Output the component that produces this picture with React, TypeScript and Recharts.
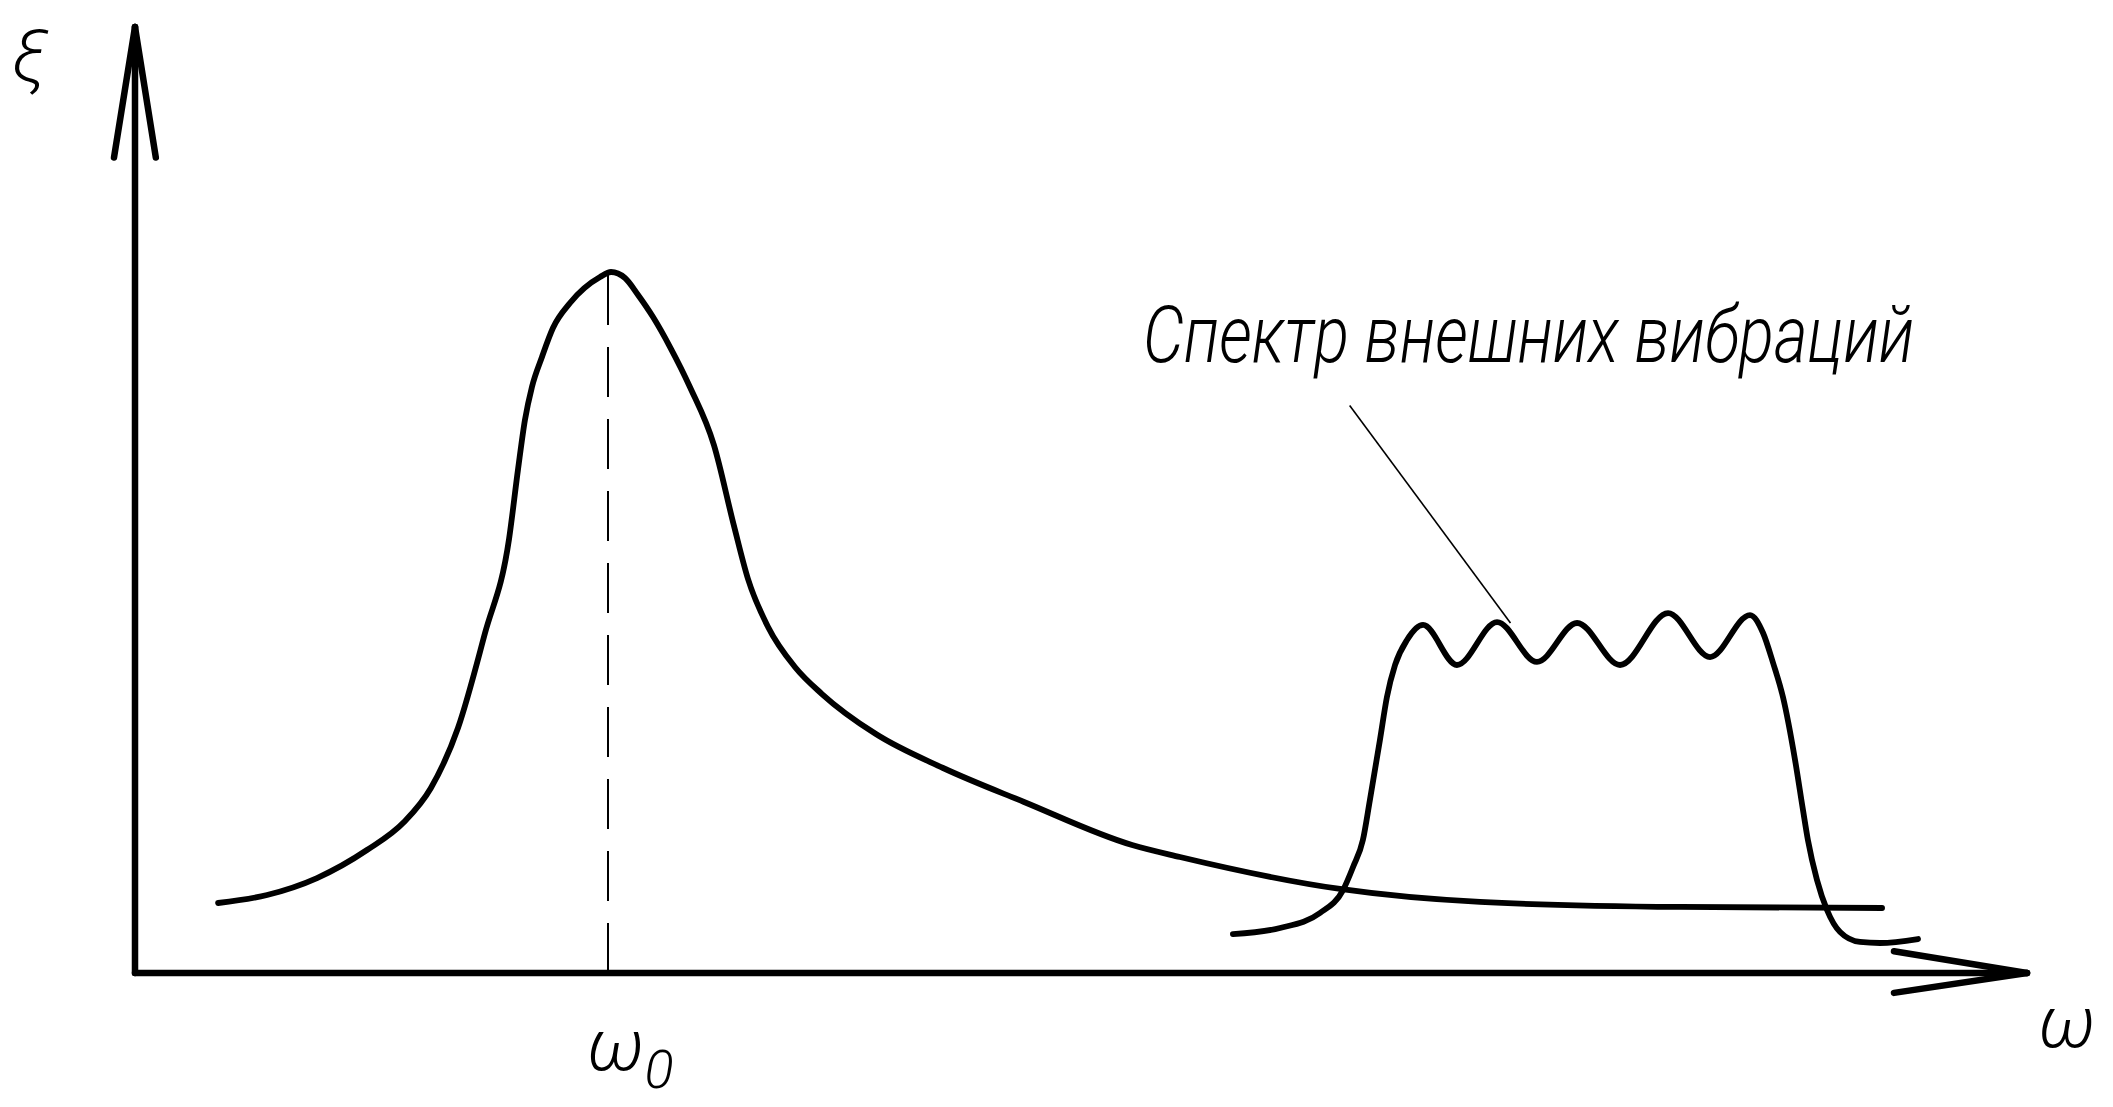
import { LineChart, Line, XAxis, YAxis, ReferenceLine, ReferenceDot } from 'recharts';

// resonance curve of the system, omega vs xi (arbitrary units 0..100)
const resonanceOmega = [
    4.39, 6.98, 9.62, 12.26, 14.22, 15.64, 17.07, 18.5, 19.77, 20.24, 20.61, 20.98, 21.51, 22.09,
    22.99, 24.58, 25.16, 25.9, 26.59, 27.38, 28.28, 29.33, 30.6, 31.66, 32.4, 33.46, 34.88, 36.31,
    39.16, 42.71, 46.99, 52.7, 55.23, 63.69, 71.09, 81.66, 92.34,
];
const resonanceXi = [
    7.4, 8.25, 10.04, 13.0, 15.96, 19.56, 25.9, 35.94, 45.88, 53.17, 58.46, 61.95, 65.12, 68.18,
    70.82, 73.57, 74.1, 73.47, 71.67, 69.34, 66.17, 61.95, 55.81, 47.25, 41.65, 36.58, 32.35, 29.49,
    25.26, 21.67, 18.08, 13.53, 12.26, 8.88, 7.51, 6.98, 6.87,
];

// spectrum of external vibrations
const spectrumOmega = [
    58.03, 60.52, 62.63, 63.85, 64.38, 64.9, 65.27, 65.8, 66.17, 66.6, 67.23, 68.08, 69.87, 71.99,
    74.1, 76.22, 78.49, 81.03, 83.25, 85.36, 86.05, 86.58, 87.1, 87.74, 88.16, 88.42, 88.9, 89.43,
    90.12, 91.17, 92.23, 94.24,
];
const spectrumXi = [
    4.12, 4.76, 6.34, 8.77, 11.21, 14.06, 18.29, 24.63, 29.18, 32.56, 35.2, 36.79, 32.56, 37.1,
    32.88, 37.0, 32.56, 38.05, 33.4, 37.84, 35.94, 32.77, 29.18, 22.52, 17.23, 14.06, 9.83, 6.66,
    4.33, 3.28, 3.17, 3.59,
];

const peakOmega = 25;
const peakXi = 74;

const spectrumTitle = 'Спектр внешних вибраций';
const leaderFrom = { x: 64.2, y: 60.0 };
const leaderTo = { x: 72.7, y: 37.0 };

const resonanceData = resonanceOmega.map((x, i) => ({ x, y: resonanceXi[i] }));
const spectrumData = spectrumOmega.map((x, i) => ({ x, y: spectrumXi[i] }));

const FONT = 'Roboto, "DejaVu Sans", sans-serif';

const makeLabel =
    (render: (x: number, y: number) => JSX.Element) =>
    (props: any) => {
        const vb = props.viewBox || {};
        return render(vb.x ?? 0, vb.y ?? 0);
    };

export default function App() {
    return (
        <div style={{ position: 'absolute', left: 0, top: 0, background: '#fff' }}>
            <LineChart
                width={2113}
                height={1107}
                margin={{ top: 27, right: 86, left: 135, bottom: 134 }}
            >
                <XAxis type="number" dataKey="x" domain={[0, 100]} hide allowDataOverflow />
                <YAxis type="number" dataKey="y" domain={[0, 100]} hide allowDataOverflow />

                {/* axes with arrows */}
                <ReferenceLine segment={[{ x: 0, y: 0 }, { x: 100, y: 0 }]} stroke="#000" strokeWidth={6.5} strokeLinecap="round" ifOverflow="visible" />
                <ReferenceLine segment={[{ x: 0, y: 0 }, { x: 0, y: 100 }]} stroke="#000" strokeWidth={6.5} strokeLinecap="round" ifOverflow="visible" />
                <ReferenceLine segment={[{ x: 92.97, y: 2.3 }, { x: 100, y: 0 }]} stroke="#000" strokeWidth={6.5} strokeLinecap="round" ifOverflow="visible" />
                <ReferenceLine segment={[{ x: 92.97, y: -2.1 }, { x: 100, y: 0 }]} stroke="#000" strokeWidth={6.5} strokeLinecap="round" ifOverflow="visible" />
                <ReferenceLine segment={[{ x: -1.11, y: 86.2 }, { x: 0, y: 100 }]} stroke="#000" strokeWidth={6.5} strokeLinecap="round" ifOverflow="visible" />
                <ReferenceLine segment={[{ x: 1.1, y: 86.2 }, { x: 0, y: 100 }]} stroke="#000" strokeWidth={6.5} strokeLinecap="round" ifOverflow="visible" />

                {/* resonance frequency marker */}
                <ReferenceLine
                    segment={[{ x: peakOmega, y: 0 }, { x: peakOmega, y: peakXi }]}
                    stroke="#000"
                    strokeWidth={2}
                    strokeDasharray="50 22"
                />

                {/* leader line to the caption */}
                <ReferenceLine segment={[leaderFrom, leaderTo]} stroke="#000" strokeWidth={1.6} />

                <Line
                    data={resonanceData}
                    dataKey="y"
                    type="monotone"
                    stroke="#000"
                    strokeWidth={5.8}
                    strokeLinecap="round"
                    strokeLinejoin="round"
                    dot={false}
                    activeDot={false}
                    isAnimationActive={false}
                />
                <Line
                    data={spectrumData}
                    dataKey="y"
                    type="monotone"
                    stroke="#000"
                    strokeWidth={5.8}
                    strokeLinecap="round"
                    strokeLinejoin="round"
                    dot={false}
                    activeDot={false}
                    isAnimationActive={false}
                />

                {/* texts */}
                <ReferenceDot
                    x={53.28}
                    y={64.59}
                    r={0}
                    ifOverflow="visible"
                    label={makeLabel((x, y) => (
                        <text
                            x={x}
                            y={y}
                            fontFamily={FONT}
                            fontStyle="italic"
                            fontWeight={300}
                            fontSize={80}
                            textLength={771}
                            lengthAdjust="spacingAndGlyphs"
                            fill="#000"
                        >
                            {spectrumTitle}
                        </text>
                    ))}
                />
                <ReferenceDot
                    x={-6.5}
                    y={94.3}
                    r={0}
                    ifOverflow="visible"
                    label={makeLabel((x, y) => (
                        <text x={x} y={y} fontFamily={FONT} fontStyle="italic" fontWeight={300} fontSize={72} fill="#000">
                            ξ
                        </text>
                    ))}
                />
                <ReferenceDot
                    x={100.6}
                    y={-7.82}
                    r={0}
                    ifOverflow="visible"
                    label={makeLabel((x, y) => (
                        <text x={x} y={y} fontFamily={FONT} fontStyle="italic" fontWeight={300} fontSize={72} fill="#000">
                            ω
                        </text>
                    ))}
                />
                <ReferenceDot
                    x={23.89}
                    y={-10.25}
                    r={0}
                    ifOverflow="visible"
                    label={makeLabel((x, y) => (
                        <text x={x} y={y} fontFamily={FONT} fontStyle="italic" fontWeight={300} fontSize={72} fill="#000">
                            ω<tspan dy={18} fontSize={54}>0</tspan>
                        </text>
                    ))}
                />
            </LineChart>
        </div>
    );
}
